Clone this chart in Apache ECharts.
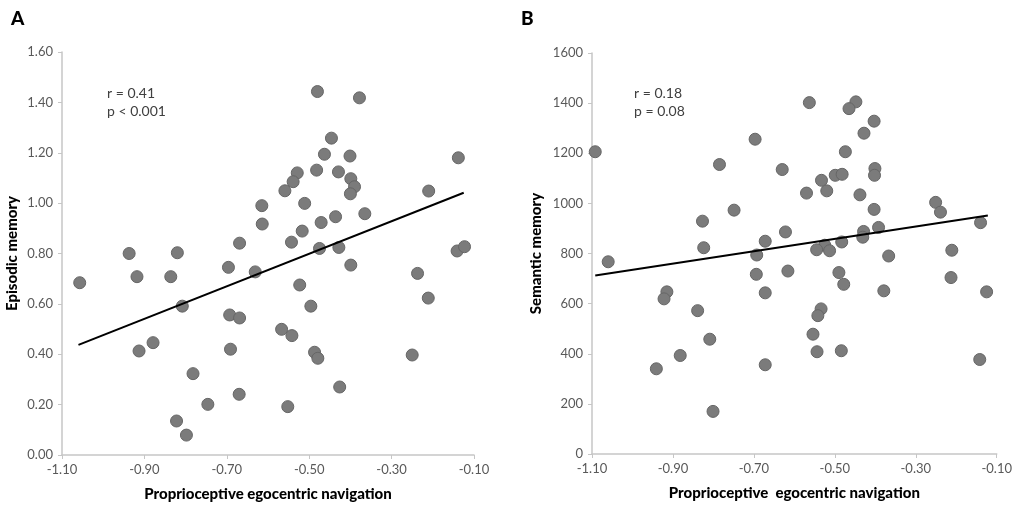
<!DOCTYPE html>
<html>
<head>
<meta charset="utf-8">
<script src="https://cdn.jsdelivr.net/npm/echarts@6/dist/echarts.min.js"></script>
<style>
  html, body { margin: 0; padding: 0; background: #fff; }
  #main { width: 1015px; height: 508px; }
</style>
</head>
<body>
<div id="main"></div>
<script>
// panel A: proprioceptive egocentric navigation vs episodic memory
var episodicX = [-1.057, -0.937, -0.82, -0.918, -0.836, -0.808, -0.913, -0.879, -0.782, -0.746,
    -0.822, -0.798, -0.696, -0.631, -0.693, -0.669, -0.691, -0.670, -0.669, -0.615,
    -0.614, -0.48, -0.378, -0.446, -0.463, -0.401, -0.138, -0.482, -0.429, -0.529,
    -0.539, -0.399, -0.390, -0.40, -0.559, -0.21, -0.511, -0.365, -0.436, -0.471,
    -0.517, -0.543, -0.475, -0.428, -0.141, -0.123, -0.399, -0.237, -0.523, -0.211,
    -0.496, -0.567, -0.542, -0.487, -0.479, -0.25, -0.426, -0.552];
var episodicY = [0.684, 0.80, 0.803, 0.708, 0.708, 0.591, 0.413, 0.446, 0.323, 0.201,
    0.135, 0.079, 0.745, 0.727, 0.556, 0.544, 0.42, 0.241, 0.841, 0.99,
    0.917, 1.443, 1.418, 1.258, 1.194, 1.187, 1.18, 1.131, 1.124, 1.12,
    1.085, 1.097, 1.065, 1.037, 1.049, 1.048, 0.999, 0.958, 0.946, 0.923,
    0.889, 0.845, 0.82, 0.824, 0.81, 0.827, 0.754, 0.721, 0.675, 0.623,
    0.591, 0.499, 0.474, 0.408, 0.384, 0.397, 0.27, 0.192];
var episodicFitX = [-1.06, -0.125];
var episodicFitY = [0.437, 1.041];

// panel B: proprioceptive egocentric navigation vs semantic memory
var semanticX = [-1.092, -0.785, -0.827, -0.749, -0.824, -1.06, -0.697, -0.563, -0.448, -0.465,
    -0.403, -0.428, -0.474, -0.630, -0.401, -0.402, -0.499, -0.482, -0.533, -0.520,
    -0.570, -0.438, -0.403, -0.251, -0.239, -0.140, -0.392, -0.429, -0.431, -0.622,
    -0.672, -0.483, -0.525, -0.545, -0.513, -0.693, -0.367, -0.211, -0.694, -0.616,
    -0.490, -0.478, -0.672, -0.379, -0.213, -0.125, -0.534, -0.542, -0.554, -0.544,
    -0.484, -0.672, -0.142, -0.915, -0.922, -0.839, -0.809, -0.882, -0.941, -0.801];
var semanticY = [1206, 1155, 929, 973, 823, 767, 1256, 1402, 1405, 1378,
    1328, 1280, 1206, 1135, 1139, 1112, 1112, 1116, 1092, 1050,
    1041, 1034, 976, 1004, 965, 923, 904, 888, 865, 886,
    849, 846, 833, 815, 811, 794, 790, 813, 717, 730,
    724, 677, 643, 651, 704, 647, 579, 552, 478, 408,
    412, 356, 377, 647, 619, 572, 458, 393, 340, 170];
var semanticFitX = [-1.092, -0.122];
var semanticFitY = [712, 952];

var xTitle = ['Proprioceptive egocentric navigation', 'Proprioceptive  egocentric navigation'];
var yTitle = ['Episodic memory', 'Semantic memory'];
var statsText = [['r = 0.41', 'p < 0.001'], ['r = 0.18', 'p = 0.08']];

function pairs(xs, ys) {
    return xs.map(function (x, i) { return [x, ys[i]]; });
}

var FONT = 'Lato, "Open Sans", sans-serif';
var axisGrey = '#c6c6c6';
var labelGrey = '#595959';

function xAxisOpt(idx) {
    return {
        gridIndex: idx,
        type: 'value',
        min: -1.1, max: -0.1, interval: 0.2,
        name: xTitle[idx],
        nameLocation: 'middle',
        nameGap: 32,
        nameTextStyle: { fontFamily: FONT, fontWeight: 900, fontSize: 15, color: '#000' },
        axisLine: { show: true, onZero: false, lineStyle: { color: axisGrey, width: 1.5 } },
        axisTick: { show: true, length: 4, lineStyle: { color: axisGrey } },
        splitLine: { show: false },
        axisLabel: {
            fontFamily: FONT, fontSize: 13, color: labelGrey, margin: 8,
            formatter: function (v) { return v.toFixed(2); }
        }
    };
}

var myChart = echarts.init(document.getElementById('main'));

myChart.setOption({
    backgroundColor: '#fff',
    animation: false,
    title: [
        { text: 'A', left: 6, top: 4, textStyle: { fontFamily: FONT, fontSize: 19, fontWeight: 900, color: '#000' } },
        { text: 'B', left: 516, top: 4, textStyle: { fontFamily: FONT, fontSize: 19, fontWeight: 900, color: '#000' } },
        { text: statsText[0].join('\n'), left: 102, top: 79,
          textStyle: { fontFamily: FONT, fontSize: 14, fontWeight: 'normal', color: '#404040', lineHeight: 18 } },
        { text: statsText[1].join('\n'), left: 629, top: 79,
          textStyle: { fontFamily: FONT, fontSize: 14, fontWeight: 'normal', color: '#404040', lineHeight: 18 } }
    ],
    grid: [
        { left: 62, top: 52, width: 412, height: 403 },
        { left: 592, top: 53, width: 405, height: 401 }
    ],
    xAxis: [xAxisOpt(0), xAxisOpt(1)],
    yAxis: [
        {
            gridIndex: 0, type: 'value', min: 0, max: 1.6, interval: 0.2,
            name: yTitle[0], nameLocation: 'middle', nameGap: 42,
            nameTextStyle: { fontFamily: FONT, fontWeight: 900, fontSize: 15, color: '#000' },
            axisLine: { show: true, lineStyle: { color: axisGrey, width: 1.5 } },
            axisTick: { show: true, length: 4, lineStyle: { color: axisGrey } },
            splitLine: { show: false },
            axisLabel: {
                fontFamily: FONT, fontSize: 13, color: labelGrey, margin: 9,
                formatter: function (v) { return v.toFixed(2); }
            }
        },
        {
            gridIndex: 1, type: 'value', min: 0, max: 1600, interval: 200,
            name: yTitle[1], nameLocation: 'middle', nameGap: 48,
            nameTextStyle: { fontFamily: FONT, fontWeight: 900, fontSize: 15, color: '#000' },
            axisLine: { show: true, lineStyle: { color: axisGrey, width: 1.5 } },
            axisTick: { show: true, length: 4, lineStyle: { color: axisGrey } },
            splitLine: { show: false },
            axisLabel: {
                fontFamily: FONT, fontSize: 13, color: labelGrey, margin: 9,
                formatter: function (v) { return String(v); }
            }
        }
    ],
    series: [
        {
            type: 'scatter', xAxisIndex: 0, yAxisIndex: 0,
            symbolSize: 12,
            itemStyle: { color: '#7b7b7b', borderColor: '#666', borderWidth: 1, opacity: 1 },
            data: pairs(episodicX, episodicY)
        },
        {
            type: 'line', xAxisIndex: 0, yAxisIndex: 0,
            showSymbol: false, symbol: 'none',
            lineStyle: { color: '#000', width: 2 },
            data: pairs(episodicFitX, episodicFitY),
            z: 3
        },
        {
            type: 'scatter', xAxisIndex: 1, yAxisIndex: 1,
            symbolSize: 12,
            itemStyle: { color: '#7b7b7b', borderColor: '#666', borderWidth: 1, opacity: 1 },
            data: pairs(semanticX, semanticY)
        },
        {
            type: 'line', xAxisIndex: 1, yAxisIndex: 1,
            showSymbol: false, symbol: 'none',
            lineStyle: { color: '#000', width: 2 },
            data: pairs(semanticFitX, semanticFitY),
            z: 3
        }
    ]
});
</script>
</body>
</html>
